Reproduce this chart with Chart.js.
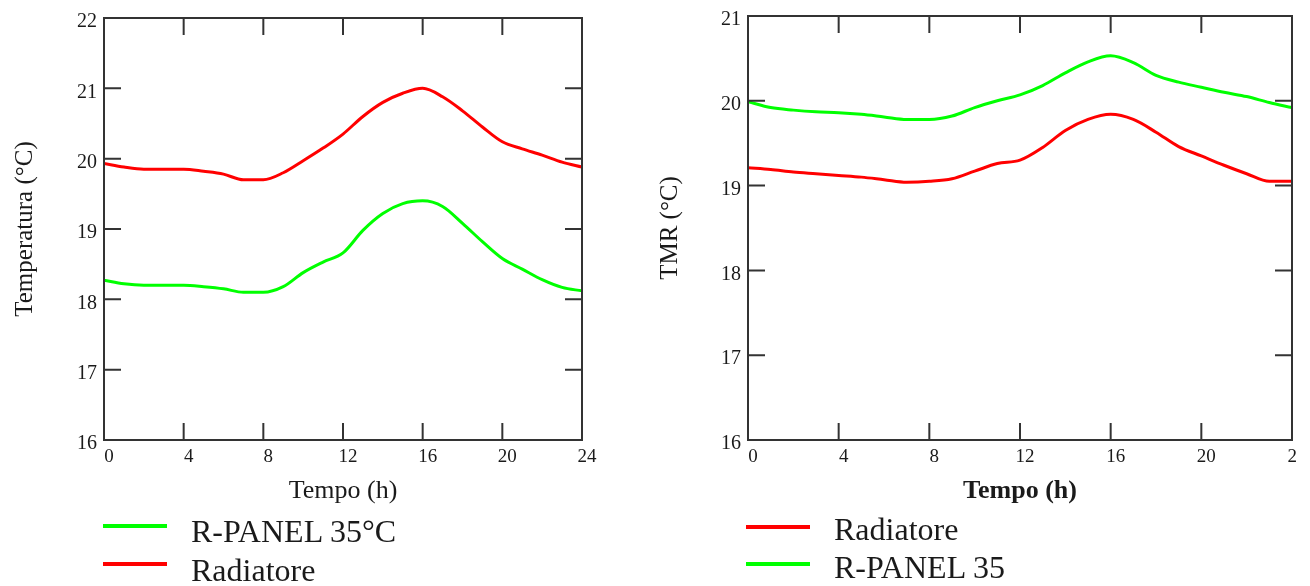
<!DOCTYPE html>
<html>
<head>
<meta charset="utf-8">
<script src="https://cdn.jsdelivr.net/npm/chart.js@4.4.0/dist/chart.umd.min.js"></script>
<style>
  body { margin: 0; background: #fff; width: 1310px; height: 586px; overflow: hidden; position: relative; font-family: "Liberation Serif", serif; }
  canvas { position: absolute; top: 0; }
  .key { position: absolute; font-size: 32px; line-height: 32px; color: #1a1a1a; white-space: nowrap; }
  .swatch { position: absolute; height: 4px; width: 64px; }
</style>
</head>
<body>
<canvas id="leftChart" width="640" height="515" style="left:0"></canvas>
<canvas id="rightChart" width="647" height="515" style="left:650px"></canvas>

<div class="swatch" style="left:103px;top:524px;background:#00ff00"></div>
<div class="key" style="left:191px;top:515px">R-PANEL 35°C</div>
<div class="swatch" style="left:103px;top:562px;background:#ff0000"></div>
<div class="key" style="left:191px;top:554px">Radiatore</div>

<div class="swatch" style="left:746px;top:525px;background:#ff0000"></div>
<div class="key" style="left:834px;top:513px">Radiatore</div>
<div class="swatch" style="left:746px;top:562px;background:#00ff00"></div>
<div class="key" style="left:834px;top:551px">R-PANEL 35</div>

<script>
// hours of the day
const hours = [0, 1, 2, 3, 4, 5, 6, 7, 8, 9, 10, 11, 12, 13, 14, 15, 16, 17, 18, 19, 20, 21, 22, 23, 24];

// left chart: air temperature
const leftPanel = [18.27, 18.22, 18.20, 18.20, 18.20, 18.18, 18.15, 18.10, 18.10, 18.18, 18.38, 18.53, 18.66,
                   18.98, 19.22, 19.36, 19.40, 19.32, 19.08, 18.82, 18.58, 18.43, 18.28, 18.17, 18.12];
const leftRadiatore = [19.93, 19.88, 19.85, 19.85, 19.85, 19.82, 19.78, 19.70, 19.70, 19.80, 19.97, 20.15, 20.35,
                       20.60, 20.80, 20.93, 21.00, 20.88, 20.68, 20.45, 20.24, 20.14, 20.05, 19.95, 19.88];

// right chart: mean radiant temperature
const rightRadiatore = [19.21, 19.19, 19.16, 19.14, 19.12, 19.10, 19.07, 19.04, 19.05, 19.08, 19.17, 19.26, 19.30,
                        19.45, 19.65, 19.78, 19.84, 19.78, 19.63, 19.46, 19.35, 19.24, 19.14, 19.05, 19.05];
const rightPanel = [19.99, 19.92, 19.89, 19.87, 19.86, 19.84, 19.81, 19.78, 19.78, 19.82, 19.92, 20.00, 20.07,
                    20.18, 20.33, 20.46, 20.53, 20.45, 20.30, 20.22, 20.16, 20.10, 20.05, 19.98, 19.92];

// tick values
const xTicks = [0, 4, 8, 12, 16, 20, 24];
const leftYTicks = [16, 17, 18, 19, 20, 21, 22];
const rightYTicks = [16, 17, 18, 19, 20, 21];

const FONT = 'Liberation Serif';
const GREEN = '#00ff00';
const RED = '#ff0000';

// box round the plot with ticks pointing inward on all four sides
const frameTicks = {
    id: 'frameTicks',
    afterDatasetsDraw(chart) {
        const { ctx, chartArea: a, scales: { x, y } } = chart;
        const len = 17;
        ctx.save();
        ctx.strokeStyle = '#333';
        ctx.lineWidth = 2;
        ctx.strokeRect(a.left, a.top, a.right - a.left, a.bottom - a.top);
        ctx.beginPath();
        x.ticks.forEach(t => {
            const px = x.getPixelForValue(t.value);
            ctx.moveTo(px, a.bottom); ctx.lineTo(px, a.bottom - len);
            ctx.moveTo(px, a.top); ctx.lineTo(px, a.top + len);
        });
        y.ticks.forEach(t => {
            const py = y.getPixelForValue(t.value);
            ctx.moveTo(a.left, py); ctx.lineTo(a.left + len, py);
            ctx.moveTo(a.right, py); ctx.lineTo(a.right - len, py);
        });
        ctx.stroke();
        ctx.restore();
    }
};

function series(label, values, color) {
    return {
        label: label,
        data: hours.map((h, i) => ({ x: h, y: values[i] })),
        borderColor: color,
        backgroundColor: color,
        borderWidth: 3,
        pointRadius: 0,
        cubicInterpolationMode: 'monotone'
    };
}

function makeChart(id, datasets, opts) {
    return new Chart(document.getElementById(id), {
        type: 'line',
        data: { datasets: datasets },
        plugins: [frameTicks],
        options: {
            responsive: false,
            animation: false,
            devicePixelRatio: 1,
            layout: { padding: { top: opts.top, right: opts.right, left: 0, bottom: 0 } },
            plugins: { legend: { display: false }, tooltip: { enabled: false } },
            scales: {
                x: {
                    type: 'linear',
                    min: 0,
                    max: 24,
                    afterBuildTicks: s => { s.ticks = xTicks.map(v => ({ value: v })); },
                    grid: { display: false, drawTicks: false },
                    border: { display: false },
                    ticks: { font: { family: FONT, size: 19 }, color: '#1a1a1a', padding: 6, labelOffset: 5, maxRotation: 0, autoSkip: false },
                    title: {
                        display: true,
                        text: 'Tempo (h)',
                        color: '#1a1a1a',
                        font: { family: FONT, size: 26, weight: opts.boldX ? 'bold' : 'normal' },
                        padding: { top: 0, bottom: 8 }
                    },
                    afterFit: s => { s.height = 75; s.paddingLeft = 0; s.paddingRight = 0; }
                },
                y: {
                    min: opts.yTicks[0],
                    max: opts.yTicks[opts.yTicks.length - 1],
                    afterBuildTicks: s => { s.ticks = opts.yTicks.map(v => ({ value: v })); },
                    grid: { display: false, drawTicks: false },
                    border: { display: false },
                    ticks: { font: { family: FONT, size: 20 }, color: '#1a1a1a', padding: 7, labelOffset: 4 },
                    title: {
                        display: true,
                        text: opts.yTitle,
                        color: '#1a1a1a',
                        font: { family: FONT, size: 25 },
                        padding: { top: opts.yTitlePad, bottom: 0 }
                    },
                    afterFit: s => { s.width = opts.yWidth; s.paddingTop = 0; s.paddingBottom = 0; }
                }
            }
        }
    });
}

makeChart('leftChart', [
    series('R-PANEL 35°C', leftPanel, GREEN),
    series('Radiatore', leftRadiatore, RED)
], { top: 18, right: 58, yWidth: 104, yTicks: leftYTicks, yTitle: 'Temperatura (°C)', yTitlePad: 10, boldX: false });

makeChart('rightChart', [
    series('Radiatore', rightRadiatore, RED),
    series('R-PANEL 35', rightPanel, GREEN)
], { top: 16, right: 5, yWidth: 98, yTicks: rightYTicks, yTitle: 'TMR (°C)', yTitlePad: 5, boldX: true });
</script>
</body>
</html>
